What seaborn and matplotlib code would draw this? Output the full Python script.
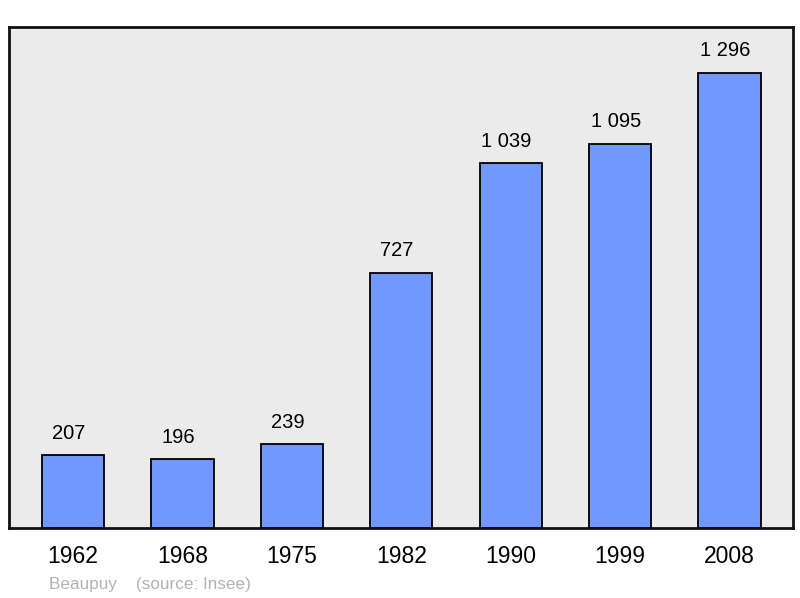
import matplotlib
matplotlib.use("Agg")
import matplotlib.pyplot as plt
import seaborn as sns
import pandas as pd

years = ["1962", "1968", "1975", "1982", "1990", "1999", "2008"]
population = [207, 196, 239, 727, 1039, 1095, 1296]
value_labels = ["207", "196", "239", "727", "1 039", "1 095", "1 296"]

sns.set_style("white")
plt.rcParams["font.family"] = ["Liberation Sans", "DejaVu Sans"]

df = pd.DataFrame({"year": years, "pop": population})

fig = plt.figure(figsize=(8, 5.98), dpi=100)
ax = fig.add_axes([9 / 800, 70 / 598, 784 / 800, 501 / 598])
ax.set_facecolor("#ebebeb")

sns.barplot(data=df, x="year", y="pop", color="#7098ff", saturation=1,
            width=0.57, edgecolor="black", linewidth=1.3, ax=ax)

# value labels sit a little left of the bar centres in the original
for i, (v, lab) in enumerate(zip(population, value_labels)):
    ax.annotate(lab, (i, v), xytext=(-3, 9), textcoords="offset points",
                ha="center", va="bottom", fontsize=14.5, color="black")

ax.set_xlim(-0.585, 6.58)
ax.set_ylim(0, 1427)
ax.set_yticks([])
ax.set_xlabel("")
ax.set_ylabel("")
ax.tick_params(axis="x", length=0, pad=12, labelsize=16.5, labelcolor="black")
for s in ax.spines.values():
    s.set_visible(True)
    s.set_linewidth(2)
    s.set_color("#111111")

fig.text(49 / 800, 1 - 584 / 598, "Beaupuy    (source: Insee)", fontsize=12.3,
         color="#b3b3b3", ha="left", va="center")

fig.savefig("out.png", dpi=100, facecolor="white")
